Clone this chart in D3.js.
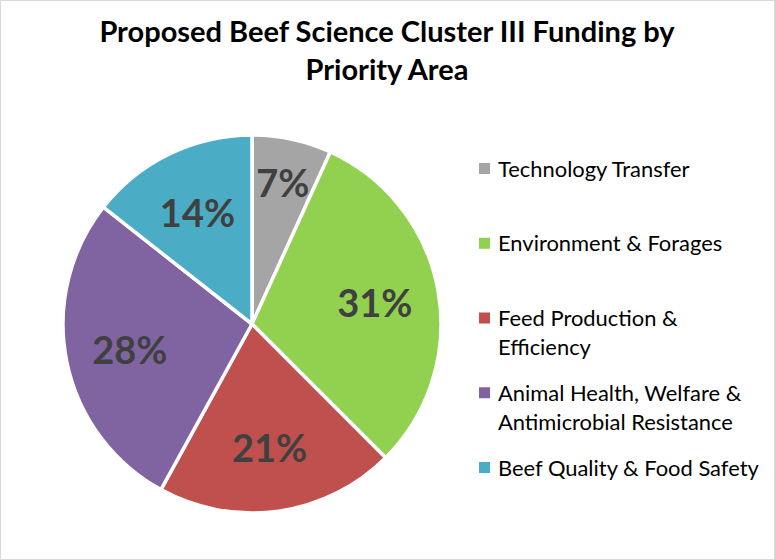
<!DOCTYPE html>
<html>
<head>
<meta charset="utf-8">
<script src="https://cdn.jsdelivr.net/npm/d3@7"></script>
<style>
  html, body { margin: 0; padding: 0; background: #ffffff; }
  svg { display: block; }
</style>
</head>
<body>
<div id="chart"></div>
<script>
'use strict';

// chart data
const categories = [
    "Technology Transfer",
    "Environment & Forages",
    "Feed Production & Efficiency",
    "Animal Health, Welfare & Antimicrobial Resistance",
    "Beef Quality & Food Safety"
];
const shares = [6.8, 30.7, 20.5, 27.6, 14.4];
const sliceColors = ["#A5A5A5", "#92D050", "#C0504D", "#8064A2", "#4BACC6"];
// legend text split the way the reference wraps it
const legendLines = [
    ["Technology Transfer"],
    ["Environment & Forages"],
    ["Feed Production &", "Efficiency"],
    ["Animal Health, Welfare &", "Antimicrobial Resistance"],
    ["Beef Quality & Food Safety"]
];
const titleLines = ["Proposed Beef Science Cluster III Funding by", "Priority Area"];

{ // start scope

const width = 775;
const height = 560;
const fontFamily = "Lato, 'Open Sans', 'DejaVu Sans', sans-serif";

const svg = d3.select("#chart")
    .append("svg")
    .attr("width", width)
    .attr("height", height);

// thin frame round the whole chart
svg.append("rect")
    .attr("x", 0.5)
    .attr("y", 0.5)
    .attr("width", width - 1)
    .attr("height", height - 1)
    .attr("fill", "#ffffff")
    .attr("stroke", "#D9D9D9");

//------------------------------------------------------------
// size a font so that a string comes out at the wanted width
//------------------------------------------------------------
function fitSize(text, weight, targetWidth) {
    let probe = svg.append("text")
        .attr("font-family", fontFamily)
        .attr("font-weight", weight)
        .attr("font-size", 100)
        .text(text);
    let w = probe.node().getComputedTextLength();
    probe.remove();
    return 100 * targetWidth / w;
}

// title
let titleSize = Math.min(29, fitSize(titleLines[0], "bold", 585));
svg.append("g")
    .selectAll("text")
    .data(titleLines)
    .enter()
    .append("text")
    .attr("x", 387)
    .attr("y", (d, i) => 42 + i * 38)
    .attr("text-anchor", "middle")
    .attr("font-family", fontFamily)
    .attr("font-weight", "bold")
    .attr("font-size", titleSize)
    .attr("fill", "#000000")
    .text(d => d);

// pie
const cx = 252, cy = 324, radius = 189;

const pie = d3.pie()
    .sort(null)
    .value(d => d);

const arc = d3.arc()
    .innerRadius(0)
    .outerRadius(radius);

const labelArc = d3.arc()
    .innerRadius(radius * 0.66)
    .outerRadius(radius * 0.66);

const arcs = pie(shares);
const total = d3.sum(shares);

const pieGroup = svg.append("g")
    .attr("transform", `translate(${cx},${cy})`);

pieGroup.selectAll("path")
    .data(arcs)
    .enter()
    .append("path")
    .attr("d", arc)
    .attr("fill", (d, i) => sliceColors[i])
    .attr("stroke", "#ffffff")
    .attr("stroke-width", 3.5)
    .attr("stroke-linejoin", "round");

let labelSize = Math.min(38, fitSize("31%", "bold", 77));
pieGroup.selectAll("text")
    .data(arcs)
    .enter()
    .append("text")
    .attr("transform", (d) => {
        let c = labelArc.centroid(d);
        // the small slice carries its label further out, as in the picture
        if((d.endAngle - d.startAngle) < 0.5) {
            let k = 0.77 / 0.66;
            c = [c[0] * k, c[1] * k];
        }
        return `translate(${c[0]},${c[1]})`;
    })
    .attr("text-anchor", "middle")
    .attr("dominant-baseline", "central")
    .attr("font-family", fontFamily)
    .attr("font-weight", "bold")
    .attr("font-size", labelSize)
    .attr("fill", "#404040")
    .text(d => Math.round(d.value / total * 100) + "%");

// legend
let legendSize = Math.min(22, fitSize("Beef Quality & Food Safety", "normal", 261));
const legendY = d3.scalePoint()
    .domain(categories)
    .range([168, 467]);

const legend = svg.append("g");

const items = legend.selectAll("g")
    .data(categories)
    .enter()
    .append("g")
    .attr("transform", d => `translate(479,${legendY(d)})`);

items.append("rect")
    .attr("x", 0)
    .attr("y", -5)
    .attr("width", 11)
    .attr("height", 11)
    .attr("fill", (d, i) => sliceColors[i]);

items.append("text")
    .attr("font-family", fontFamily)
    .attr("font-size", legendSize)
    .attr("fill", "#000000")
    .selectAll("tspan")
    .data((d, i) => legendLines[i])
    .enter()
    .append("tspan")
    .attr("x", 19)
    .attr("y", (d, j) => j * 29)
    .attr("dominant-baseline", "central")
    .text(d => d);

} // end scope
</script>
</body>
</html>
